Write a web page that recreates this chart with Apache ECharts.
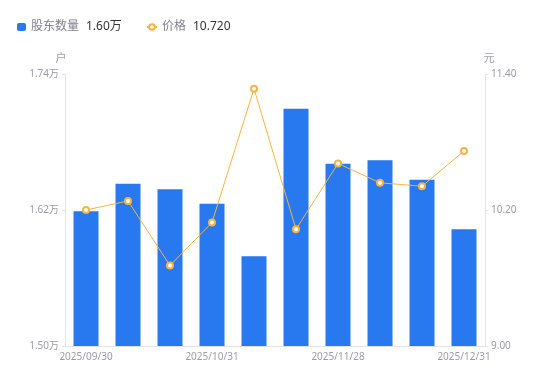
<!DOCTYPE html>
<html><head><meta charset="utf-8">
<script src="https://cdn.jsdelivr.net/npm/echarts@6/dist/echarts.min.js"></script>
<style>html,body{margin:0;padding:0;background:#fff}#c{width:550px;height:381px}</style>
</head><body><div id="c"></div>
<script>
var categories = ['2025/09/30','2025/10/10','2025/10/20','2025/10/31','2025/11/10','2025/11/20','2025/11/28','2025/12/10','2025/12/20','2025/12/31'];
var holders = [16189, 16432, 16383, 16256, 15791, 17094, 16609, 16639, 16467, 16030];
var prices = [10.20, 10.28, 9.71, 10.09, 11.27, 10.03, 10.61, 10.44, 10.41, 10.72];
var leftTicks = [15000, 16200, 17400];
var rightTicks = [9.00, 10.20, 11.40];

var chart = echarts.init(document.getElementById('c'), null, {renderer:'canvas'});
var axisLabelColor = '#9b9ba8';
var font = '"Noto Sans", "Noto Sans CJK SC", sans-serif';
var legendText = {fontFamily:font, fontSize:12, color:'#80808c',
  rich:{v:{fontSize:12, color:'#333', padding:[0,0,0,7], fontFamily:font}}};
function legendFmt(name){
  if(name==='股东数量') return name+'{v|'+(holders[holders.length-1]/10000).toFixed(2)+'万}';
  return name+'{v|'+prices[prices.length-1].toFixed(3)+'}';
}
chart.setOption({
  animation:false,
  textStyle:{fontFamily:font},
  legend:[{
    left:12, top:16, itemWidth:9, itemHeight:8,
    textStyle:legendText, formatter:legendFmt,
    data:[{name:'股东数量', icon:'roundRect'}]
  },{
    left:141, top:16, itemWidth:10, itemHeight:7,
    textStyle:legendText, formatter:legendFmt,
    data:[{name:'价格'}]
  }],
  grid:{left:65, right:65, top:74, bottom:35},
  xAxis:{
    type:'category', data:categories,
    axisLine:{lineStyle:{color:'#e3e3e3'}},
    axisTick:{show:false},
    axisLabel:{interval:2, color:axisLabelColor, fontSize:10, margin:6, fontFamily:font}
  },
  yAxis:[{
    type:'value', name:'户', min:leftTicks[0], max:leftTicks[2], interval:leftTicks[1]-leftTicks[0],
    nameTextStyle:{color:axisLabelColor, fontSize:11, padding:[0,8,0,0]}, nameGap:10,
    axisLine:{show:true, lineStyle:{color:'#e3e3e3'}},
    axisTick:{show:true, length:3, lineStyle:{color:'#e3e3e3'}},
    splitLine:{show:false},
    axisLabel:{color:axisLabelColor, fontSize:10, margin:6, fontFamily:font,
      formatter:function(v){return (v/10000).toFixed(2)+'万';}}
  },{
    type:'value', name:'元', min:rightTicks[0], max:rightTicks[2], interval:rightTicks[1]-rightTicks[0],
    nameTextStyle:{color:axisLabelColor, fontSize:11, padding:[0,0,0,8]}, nameGap:10,
    axisLine:{show:true, lineStyle:{color:'#e3e3e3'}},
    axisTick:{show:true, length:3, lineStyle:{color:'#e3e3e3'}},
    splitLine:{show:false},
    axisLabel:{color:axisLabelColor, fontSize:10, margin:6, fontFamily:font,
      formatter:function(v){return v.toFixed(2);}}
  }],
  series:[{
    name:'股东数量', type:'bar', data:holders, yAxisIndex:0, barWidth:25,
    itemStyle:{color:'#2878f0'}
  },{
    name:'价格', type:'line', data:prices, yAxisIndex:1,
    symbol:'emptyCircle', symbolSize:6,
    lineStyle:{color:'#f7b440', width:1},
    itemStyle:{color:'#f7b440', borderWidth:2}
  }]
});
</script></body></html>
